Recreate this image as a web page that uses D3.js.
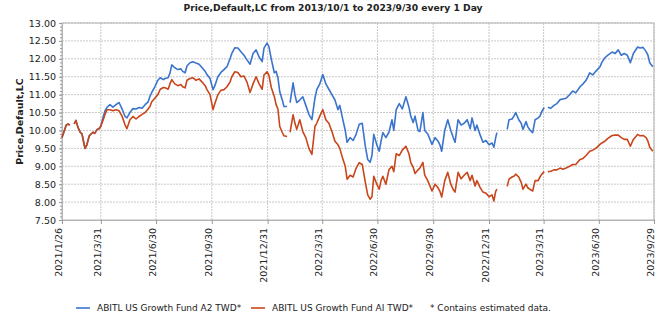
<!DOCTYPE html>
<html>
<head>
<meta charset="utf-8">
<script src="https://cdn.jsdelivr.net/npm/d3@7"></script>
<style>
  body { margin: 0; background: #fff; }
  text { font-family: "DejaVu Sans", Verdana, sans-serif; fill: #222; }
</style>
</head>
<body>
<div id="chart"></div>
<script>
// series start date, day offsets of each sample (null value = no quote that day)
var startDate = "2021-01-26";
var dayOffsets = [0,3,7,10,13,16,20,23,26,30,33,36,38,41,45,48,51,54,58,61,64,
  68,71,74,79,84,89,94,99,104,107,112,117,122,127,132,137,142,145,148,153,158,
  162,167,170,175,178,181,186,191,196,199,203,206,211,216,221,226,231,236,239,
  244,249,252,257,262,267,272,277,280,285,290,295,300,305,310,315,320,325,330,
  333,338,341,345,350,353,356,359,363,366,371,373,376,381,384,387,392,397,402,
  407,412,417,420,425,430,435,440,445,450,455,458,463,467,470,475,480,485,490,
  495,500,504,508,511,514,519,523,526,529,534,539,544,547,551,556,561,567,572,
  575,579,582,587,590,595,598,603,610,615,620,623,626,631,636,641,645,648,653,
  658,663,668,673,676,681,684,689,694,699,704,709,712,715,717,725,734,737,742,
  745,748,753,757,760,765,768,772,776,780,785,788,791,795,798,801,806,811,816,
  821,826,831,837,842,847,854,859,864,870,875,880,887,890,895,900,907,912,917,
  922,927,932,937,942,949,953,958,963,966,969,974];

var fundA2 = [9.80,9.95,10.15,10.18,10.15,null,10.18,10.28,10.10,9.95,9.90,9.65,9.50,9.60,9.85,9.90,9.95,9.92,10.03,10.05,10.12,
  10.39,10.55,10.64,10.72,10.65,10.72,10.78,10.60,10.39,10.35,10.50,10.61,10.60,10.64,10.62,10.72,10.80,10.95,11.06,11.22,11.40,
  11.47,11.42,11.45,11.47,11.60,11.83,11.75,11.70,11.72,11.65,11.61,11.80,11.89,11.92,11.88,11.85,11.75,11.65,11.56,
  11.45,11.14,11.25,11.50,11.62,11.70,11.78,12.00,12.15,12.31,12.30,12.20,12.10,11.97,11.85,12.15,12.25,12.05,11.92,
  12.30,12.44,12.35,12.00,11.61,11.65,11.47,11.08,10.86,10.67,10.67,null,10.78,11.33,11.00,10.78,10.85,10.94,10.70,
  10.45,10.30,10.90,11.14,11.30,11.56,11.30,11.15,11.00,10.85,10.58,10.70,10.30,10.00,9.67,9.80,9.72,9.90,10.17,
  10.20,9.56,9.19,9.11,9.30,9.89,9.60,9.42,9.70,9.94,9.80,9.95,10.30,10.00,10.58,10.75,10.60,10.94,10.65,
  10.40,10.22,10.40,10.00,9.97,10.50,10.00,9.90,9.61,9.80,9.70,9.60,9.42,10.00,10.30,10.00,9.80,9.67,10.30,
  10.15,10.20,10.30,10.05,10.35,10.00,10.15,9.89,9.67,9.72,9.60,9.65,9.53,9.80,9.94,null,10.03,10.30,10.32,
  10.40,10.50,10.30,10.20,10.03,10.25,10.10,10.00,9.94,10.30,10.35,10.40,10.53,10.64,null,10.65,10.62,10.70,10.75,
  10.86,10.88,10.90,11.00,11.10,11.05,11.22,11.30,11.40,11.61,11.55,11.65,11.78,11.90,12.03,12.10,12.19,12.15,12.25,
  12.10,12.15,12.10,11.89,12.15,12.33,12.30,12.32,12.20,12.10,11.89,11.78];

var fundAI = [9.80,9.95,10.15,10.18,10.15,null,10.18,10.28,10.10,9.95,9.90,9.65,9.50,9.60,9.85,9.90,9.95,9.92,10.03,10.05,10.12,
  10.30,10.45,10.58,10.58,10.55,10.58,10.55,10.40,10.15,10.05,10.30,10.39,10.32,10.39,10.45,10.50,10.60,10.67,10.80,10.90,11.00,
  11.15,11.20,11.19,11.15,11.30,11.42,11.30,11.25,11.28,11.22,11.19,11.40,11.45,11.47,11.40,11.44,11.35,11.25,11.14,
  11.00,10.58,10.75,11.00,11.12,11.14,11.22,11.35,11.50,11.64,11.62,11.50,11.52,11.35,11.06,11.30,11.50,11.30,11.15,
  11.55,11.64,11.55,11.20,10.95,10.72,10.60,10.11,9.95,9.85,9.83,null,9.95,10.44,10.20,10.03,10.30,9.97,9.80,
  9.50,9.33,10.11,10.20,10.40,10.58,10.30,10.20,9.97,9.70,9.60,9.50,9.20,9.00,8.64,8.75,8.70,8.95,9.10,
  9.05,8.56,8.20,8.08,8.15,8.72,8.50,8.36,8.60,8.72,8.50,8.90,9.00,8.85,9.35,9.30,9.45,9.56,9.35,
  9.10,8.97,8.80,8.90,8.95,9.11,8.75,8.60,8.31,8.50,8.40,8.30,8.14,8.60,8.83,8.50,8.35,8.28,8.83,
  8.65,8.75,8.83,8.60,8.75,8.45,8.60,8.42,8.28,8.25,8.15,8.20,8.03,8.30,8.36,null,8.44,8.64,8.70,
  8.72,8.78,8.70,8.55,8.36,8.50,8.40,8.35,8.31,8.60,8.60,8.70,8.78,8.85,null,8.85,8.86,8.90,8.90,
  8.95,8.92,8.95,9.00,9.05,9.05,9.19,9.22,9.30,9.42,9.45,9.50,9.61,9.65,9.70,9.78,9.86,9.87,9.87,
  9.80,9.75,9.75,9.56,9.75,9.89,9.85,9.86,9.80,9.70,9.53,9.42];

var seriesNames = ["ABITL US Growth Fund A2 TWD*", "ABITL US Growth Fund AI TWD*"];
var seriesColors = ["#3a74cc", "#c9461a"];
var xTickLabels = ["2021/1/26","2021/3/31","2021/6/30","2021/9/30","2021/12/31","2022/3/31",
  "2022/6/30","2022/9/30","2022/12/31","2023/3/31","2023/6/30","2023/9/29"];
var yTicks = [7.5,8,8.5,9,9.5,10,10.5,11,11.5,12,12.5,13];

var W = 670, H = 319;
var m = {left: 62, right: 16, top: 23, bottom: 99};

var parse = d3.timeParse("%Y-%m-%d");
var parseTick = d3.timeParse("%Y/%m/%d");
var t0 = parse(startDate);
var dates = dayOffsets.map(function (d) { return d3.timeDay.offset(t0, d); });
var tickDates = xTickLabels.map(function (s) { return parseTick(s); });

var svg = d3.select("#chart").append("svg").attr("width", W).attr("height", H);

var x = d3.scaleTime()
  .domain([tickDates[0], tickDates[tickDates.length - 1]])
  .range([m.left, W - m.right]);
var y = d3.scaleLinear().domain([7.5, 13]).range([H - m.bottom, m.top]);

// grid
var grid = svg.append("g");
grid.selectAll("line.h").data(yTicks.slice(1)).enter().append("line")
  .attr("x1", m.left).attr("x2", W - m.right)
  .attr("y1", function (d) { return y(d); }).attr("y2", function (d) { return y(d); })
  .attr("stroke", "#c8c8c8").attr("stroke-dasharray", "2,1");
grid.selectAll("line.v").data(tickDates.slice(1)).enter().append("line")
  .attr("x1", function (d) { return x(d); }).attr("x2", function (d) { return x(d); })
  .attr("y1", m.top).attr("y2", H - m.bottom)
  .attr("stroke", "#c8c8c8").attr("stroke-dasharray", "2,1");

// frame
svg.append("rect").attr("x", m.left).attr("y", m.top)
  .attr("width", W - m.right - m.left).attr("height", H - m.bottom - m.top)
  .attr("fill", "none").attr("stroke", "#b4b4b4");

// y axis + minor ticks
var yAxis = svg.append("g").attr("transform", "translate(" + m.left + ",0)")
  .call(d3.axisLeft(y).tickValues(yTicks).tickFormat(d3.format(".2f")).tickSize(3).tickPadding(3));
svg.append("g").attr("transform", "translate(" + m.left + ",0)")
  .call(d3.axisLeft(y).tickValues(d3.range(75, 131).map(function (v) { return v / 10; }))
    .tickFormat("").tickSize(2))
  .call(function (g) { g.select(".domain").remove(); });

// x axis
var xAxis = svg.append("g").attr("transform", "translate(0," + (H - m.bottom) + ")")
  .call(d3.axisBottom(x).tickValues(tickDates)
    .tickFormat(function (d, i) { return xTickLabels[i]; }).tickSize(4));
xAxis.selectAll("text")
  .attr("transform", "rotate(-90)")
  .attr("text-anchor", "end")
  .attr("x", -8).attr("y", -4).attr("dy", "0.35em");

svg.selectAll(".domain").attr("stroke", "#b4b4b4");
svg.selectAll(".tick line").attr("stroke", "#999");
svg.selectAll(".tick text").attr("font-size", 9.5).attr("fill", "#222")
  .attr("font-family", "DejaVu Sans, sans-serif");

// lines
var line = d3.line()
  .defined(function (d) { return d.v !== null; })
  .x(function (d) { return x(d.t); })
  .y(function (d) { return y(d.v); });

[fundA2, fundAI].forEach(function (vals, k) {
  var pts = vals.map(function (v, i) { return {t: dates[i], v: v}; });
  svg.append("path").datum(pts)
    .attr("fill", "none").attr("stroke", seriesColors[k])
    .attr("stroke-width", 1.6).attr("stroke-linejoin", "round")
    .attr("d", line);
});

// title
svg.append("text").attr("x", 333).attr("y", 11).attr("text-anchor", "middle")
  .attr("font-size", 9.2).attr("font-weight", "bold")
  .text("Price,Default,LC from 2013/10/1 to 2023/9/30 every 1 Day");

// y label
svg.append("text").attr("transform", "translate(23," + ((m.top + H - m.bottom) / 2) + ") rotate(-90)")
  .attr("text-anchor", "middle").attr("font-size", 9.5).attr("font-weight", "bold")
  .text("Price,Default,LC");

// legend
var lg = svg.append("g").attr("transform", "translate(0,311)");
var lx = [76, 251];
seriesNames.forEach(function (name, i) {
  lg.append("line").attr("x1", lx[i]).attr("x2", lx[i] + 14).attr("y1", -3).attr("y2", -3)
    .attr("stroke", seriesColors[i]).attr("stroke-width", 1.6);
  lg.append("text").attr("x", lx[i] + 21).attr("y", 0).attr("font-size", 9).text(name);
});
lg.append("text").attr("x", 430).attr("y", 0).attr("font-size", 9)
  .text("*  Contains estimated data.");
</script>
</body>
</html>
